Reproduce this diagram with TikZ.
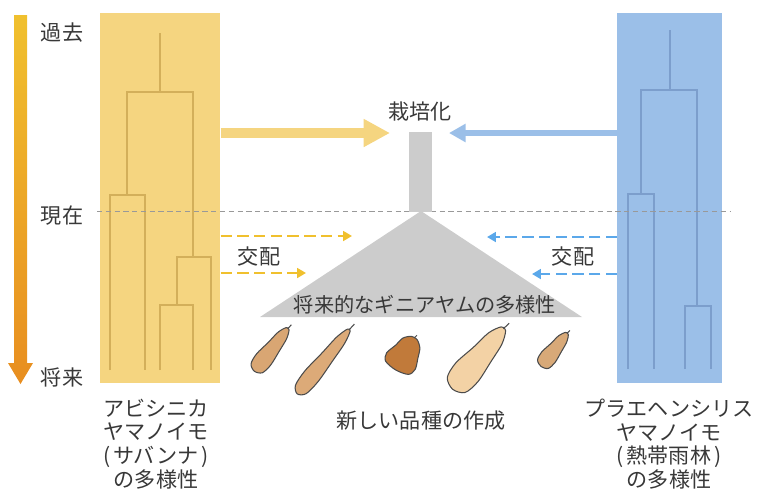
\documentclass[tikz,border=0pt]{standalone}
\usepackage{fontspec}
\newfontfamily\jpfont{Noto Sans CJK JP}
\usetikzlibrary{arrows.meta}

\definecolor{savanna}{HTML}{F5D580}
\definecolor{savannaline}{HTML}{D3AF5A}
\definecolor{forest}{HTML}{9BBFE8}
\definecolor{forestline}{HTML}{7C9ECC}
\definecolor{crossyellow}{HTML}{F0C02E}
\definecolor{crossblue}{HTML}{5BA8EA}
\definecolor{conegray}{HTML}{CCCCCC}
\definecolor{textgray}{HTML}{383838}
\definecolor{timetop}{HTML}{F0C02E}
\definecolor{timebot}{HTML}{E88E20}
\definecolor{yamA}{HTML}{D9A673}
\definecolor{yamB}{HTML}{DCAA78}
\definecolor{yamC}{HTML}{C17A3A}
\definecolor{yamD}{HTML}{F3D2A5}
\definecolor{yamE}{HTML}{D8A978}

\begin{document}
\begin{tikzpicture}[
  x=0.02cm, y=-0.02cm,
  every node/.style={font=\jpfont\fontsize{12}{13.5}\selectfont, text=textgray, inner sep=0pt},
  panel/.style={anchor=north west, minimum height=7.4cm},
  savtree/.style={draw=savannaline, line width=1.5pt},
  fortree/.style={draw=forestline, line width=1.5pt},
  nowline/.style={draw=gray!80, line width=0.5pt, dash pattern=on 3pt off 2pt},
  bigarrow/.style={draw=savanna, line width=5.7pt, -{Triangle[length=15pt,width=15pt]}},
  bluearrow/.style={draw=forest, line width=3.4pt, -{Triangle[length=9.5pt,width=10pt]}},
  crossing/.style={line width=1.5pt, dash pattern=on 6.5pt off 3pt, -{Triangle[length=5pt,width=5.5pt]}},
  yam/.style={draw=black!70, line width=0.6pt}
]
  \useasboundingbox (0,0) rectangle (766,501);

  % time axis
  \shade[top color=timetop, bottom color=timebot]
    (14,15) -- (27,15) -- (27,363) -- (33,363) -- (20.5,384) -- (8,363) -- (14,363) -- cycle;
  \node (past) at (62,33) {過去};
  \node (now) at (62,216) {現在};
  \node (future) at (62,377) {将来};

  % the two wild populations
  \node[panel, fill=savanna, minimum width=2.4cm] (abyss) at (100,13) {};
  \node[panel, fill=forest, minimum width=2.1cm] (praeh) at (617,13) {};

  \draw[savtree] (160,33) -- (160,92);
  \draw[savtree] (127,195) -- (127,92) -- (193,92) -- (193,257);
  \draw[savtree] (110,370) -- (110,195) -- (145,195) -- (145,370);
  \draw[savtree] (177,305) -- (177,257) -- (211,257) -- (211,370);
  \draw[savtree] (160,370) -- (160,305) -- (193,305) -- (193,370);

  \draw[fortree] (670,30) -- (670,90);
  \draw[fortree] (641,194) -- (641,90) -- (697,90) -- (697,306);
  \draw[fortree] (628,369) -- (628,194) -- (654,194) -- (654,369);
  \draw[fortree] (685,369) -- (685,306) -- (711,306) -- (711,369);

  \draw[nowline] (97,211) -- (730,211);

  % domestication
  \node (dom) at (420,111) {栽培化};
  \coordinate (dom in) at (390,133);
  \coordinate (dom out) at (449,133);
  \draw[bigarrow] (abyss.east |- dom in) -- (dom in);
  \draw[bluearrow] (praeh.west |- dom out) -- (dom out);

  \fill[conegray] (409,132) rectangle (432,212);
  \fill[conegray] (421,211) -- (582,317) -- (260,317) -- cycle;
  \node[font=\jpfont\fontsize{11.5}{13}\selectfont] (guinea) at (425,305) {将来的なギニアヤムの多様性};

  % crossing back into the wild
  \coordinate (sav hi) at (352,236);
  \coordinate (sav lo) at (306,273);
  \coordinate (for hi) at (487,237);
  \coordinate (for lo) at (532,274);
  \draw[crossing, crossyellow] (abyss.east |- sav hi) -- (sav hi);
  \draw[crossing, crossyellow] (abyss.east |- sav lo) -- (sav lo);
  \draw[crossing, crossblue] (praeh.west |- for hi) -- (for hi);
  \draw[crossing, crossblue] (praeh.west |- for lo) -- (for lo);
  \node (cross sav) at (259,257) {交配};
  \node (cross for) at (573,257) {交配};

  % new varieties
  \foreach \cx/\cy/\ang/\len/\wid/\col in {271/350/52/54/18/yamA, 323/362/51/82/17/yamB,
      405/354/60/37/33/yamC, 478/359/50/79/29/yamD, 554/350/52/42/17/yamE} {
    \begin{scope}[shift={(\cx,\cy)}, rotate=\ang, xscale=\len, yscale=\wid]
      \draw[yam, fill=\col] plot[smooth cycle] coordinates {(-0.5,0) (-0.43,0.4) (-0.22,0.5)
        (0.08,0.4) (0.34,0.3) (0.5,0.1) (0.5,-0.1) (0.34,-0.3) (0.08,-0.38) (-0.22,-0.5) (-0.43,-0.4)};
      \draw[yam] (0.5,0) -- (0.6,0.03);
    \end{scope}
  }
  \node (newvar) at (421,421) {新しい品種の作成};

  \node[align=center] (abyss label) at (156,444) {アビシニカ\\ヤマノイモ\\(\kern2pt サバンナ\kern2pt)\\の多様性};
  \node[align=center] (praeh label) at (669,444) {プラエヘンシリス\\ヤマノイモ\\(\kern2pt 熱帯雨林\kern2pt)\\の多様性};
\end{tikzpicture}
\end{document}
